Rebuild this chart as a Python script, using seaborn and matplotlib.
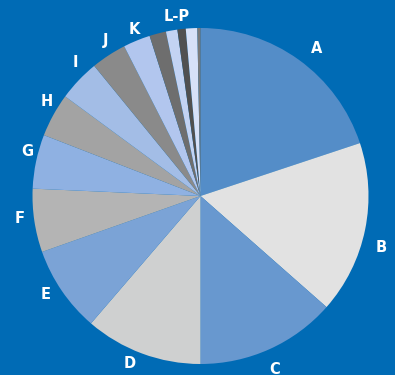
import numpy as np
import matplotlib
matplotlib.use("Agg")
import matplotlib.pyplot as plt
import seaborn as sns

categories = ["A", "B", "C", "D", "E", "F", "G", "H", "I", "J", "K", "L", "M", "N", "O", "P"]
values = [19.9, 16.6, 13.5, 11.3, 8.3, 6.1, 5.2, 4.2, 4.0, 3.4, 2.6, 1.6, 1.1, 0.8, 1.1, 0.3]
label_texts = ["A", "B", "C", "D", "E", "F", "G", "H", "I", "J", "K", "L-P"]
colors = ["#548dc8", "#e2e2e2", "#6898cf", "#cfd0d0", "#7ba3d6", "#b4b4b4",
          "#8fb1e2", "#a3a3a3", "#a3bde6", "#8a8a8a", "#b2c6ee", "#6e6e6e",
          "#c3d3f3", "#505050", "#d7e1f8", "#7a7a7a"]
bg = "#006bb5"

sns.set_theme(style="white")
plt.rcParams['font.family'] = ['Liberation Sans Narrow', 'DejaVu Sans']

fig = plt.figure(figsize=(3.95, 3.75), dpi=100, facecolor=bg)
ax = fig.add_axes([0, 0, 1, 1])
ax.set_facecolor(bg)

wedges, _ = ax.pie(values, colors=colors, startangle=90, counterclock=False,
                   radius=1.0, wedgeprops=dict(linewidth=0))

# label positions from wedge mid-angles (clockwise from top)
vals = np.array(values)
total = vals.sum()
cum = np.concatenate([[0], np.cumsum(vals)]) / total * 360.0
mids = [(cum[i] + cum[i + 1]) / 2 for i in range(11)]
mids.append((cum[11] + cum[16]) / 2)
offsets = [2.4, 4.4, 1.3, 2.5, 1.9, 1.5, 2.4, 2.9, 3.2, 1.7, 0.5, 1.2]
rads = [1.115, 1.12, 1.125, 1.085, 1.09, 1.085, 1.065, 1.075, 1.09, 1.085, 1.065, 1.08]
for txt, m, o, r in zip(label_texts, mids, offsets, rads):
    a = np.deg2rad(m + o)
    ax.text(r * np.sin(a), r * np.cos(a), txt, color="white", fontsize=10.5,
            fontweight="bold", ha="center", va="center")

ax.set_xlim(-200.5 / 168, (395 - 200.5) / 168)
ax.set_ylim(-179 / 168, 196 / 168)
ax.set_aspect("auto")
ax.axis("off")

fig.savefig("out.png", dpi=100, facecolor=bg)
